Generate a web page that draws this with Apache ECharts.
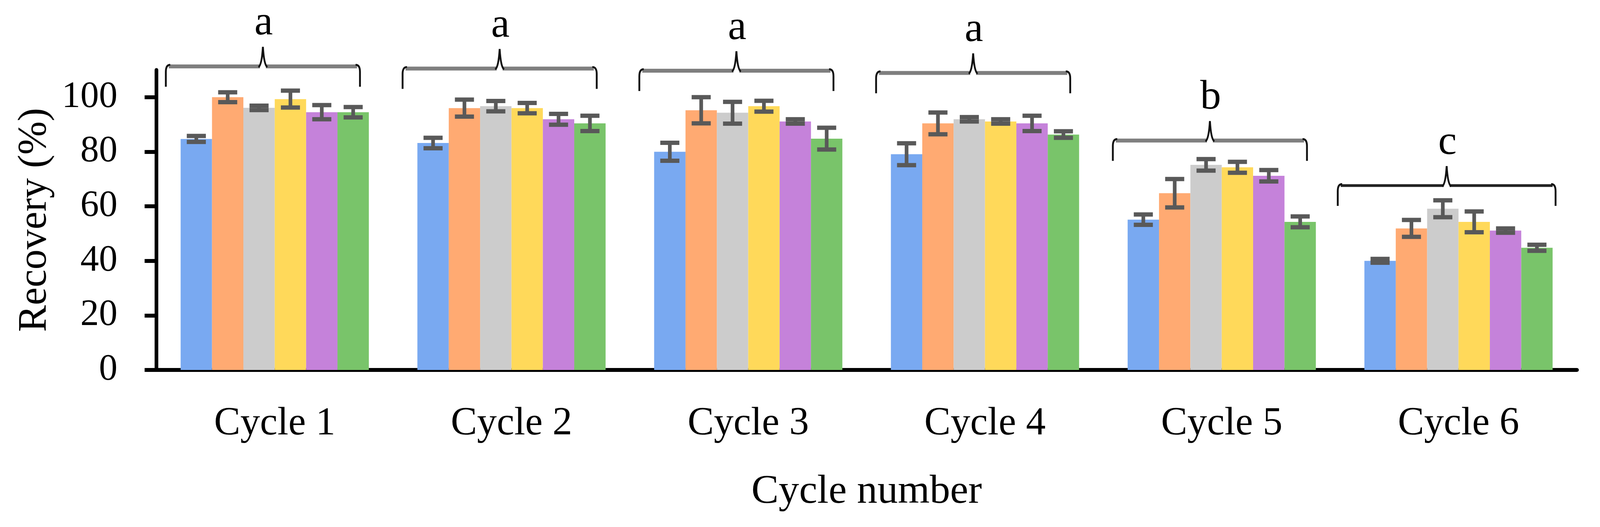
<!DOCTYPE html>
<html>
<head>
<meta charset="utf-8">
<script src="https://cdn.jsdelivr.net/npm/echarts@6/dist/echarts.min.js"></script>
<style>html,body{margin:0;padding:0;background:#fff;overflow:hidden}#c{width:100vw;height:100vh}</style>
</head>
<body>
<div id="c"></div>
<script>
const categories = ['Cycle 1', 'Cycle 2', 'Cycle 3', 'Cycle 4', 'Cycle 5', 'Cycle 6'];
const seriesNames = ['Series 1', 'Series 2', 'Series 3', 'Series 4', 'Series 5', 'Series 6'];
const s1 = [84.7, 83.2, 80.0, 79.1, 55.1, 40.0];
const s2 = [100.0, 96.0, 95.2, 90.4, 64.8, 51.9];
const s3 = [96.1, 96.7, 94.3, 91.9, 75.2, 59.1];
const s4 = [99.3, 96.0, 96.7, 91.1, 74.3, 54.3];
const s5 = [94.5, 91.9, 91.1, 90.4, 71.2, 51.1];
const s6 = [94.5, 90.4, 84.8, 86.3, 54.3, 44.8];
const e1 = [1.1, 1.9, 3.3, 4.0, 1.9, 0.7];
const e2 = [1.8, 3.1, 4.8, 4.0, 5.2, 3.1];
const e3 = [0.8, 1.9, 4.0, 0.8, 2.1, 3.1];
const e4 = [3.1, 1.9, 2.0, 0.8, 2.0, 3.8];
const e5 = [2.6, 2.0, 0.8, 2.8, 2.1, 0.8];
const e6 = [1.9, 2.8, 4.0, 1.2, 2.0, 1.1];
const yTicks = [0, 20, 40, 60, 80, 100];
const groupLetters = ['a', 'a', 'a', 'a', 'b', 'c'];
const groupLevels = [111.3, 110.5, 109.7, 108.9, 84.1, 67.6];

const values = [s1, s2, s3, s4, s5, s6];
const errors = [e1, e2, e3, e4, e5, e6];
const colors = ['#79A9F1', '#FFAA72', '#CCCCCC', '#FFD95A', '#C582DA', '#79C46A'];
const FONT = '"Liberation Serif", "DejaVu Serif", serif';
const GAP = 0.205;
const N = values.length;
const el = document.getElementById('c');
const KX = el.clientWidth / 4359, KY = el.clientHeight / 1349;
const KF = Math.sqrt(KX * KY);
const X = v => v * KX, Y = v => v * KY, F = v => v * KF;

const series = [];
values.forEach((v, i) => {
  series.push({
    name: seriesNames[i], type: 'bar', data: v, barGap: '0%', barCategoryGap: (GAP * 100) + '%',
    itemStyle: { color: colors[i] }, z: 2
  });
});
values.forEach((v, i) => {
  series.push({
    type: 'custom', z: 5, clip: false,
    data: v.map((m, k) => [k, m - errors[i][k], m + errors[i][k]]),
    renderItem: function (params, api) {
      const x = api.value(0);
      const catW = api.size([1, 0])[0];
      const barW = catW * (1 - GAP) / N;
      const cx = api.coord([x, 0])[0] + (i - (N - 1) / 2) * barW;
      const yHi = api.coord([x, api.value(2)])[1];
      const yLo = api.coord([x, api.value(1)])[1];
      const st = { stroke: '#595959', lineWidth: X(10) };
      const cap = { stroke: '#595959', lineWidth: Y(11) };
      const cw = X(26);
      return { type: 'group', children: [
        { type: 'line', shape: { x1: cx, y1: yHi, x2: cx, y2: yLo }, style: st },
        { type: 'line', shape: { x1: cx - cw, y1: yHi, x2: cx + cw, y2: yHi }, style: cap },
        { type: 'line', shape: { x1: cx - cw, y1: yLo, x2: cx + cw, y2: yLo }, style: cap }
      ]};
    }
  });
});
series.push({
  type: 'custom', z: 6, clip: false, silent: true,
  data: groupLevels.map((lv, k) => [k, lv]),
  renderItem: function (params, api) {
    const k = api.value(0);
    const catW = api.size([1, 0])[0];
    const p = api.coord([k, api.value(1)]);
    const cx = p[0] - 0.05 * catW;
    const hw = (k === 5 ? 0.46 : 0.41) * catW;
    const y = p[1];
    const x0 = cx - hw, x1 = cx + hw;
    const gray = { stroke: k === 5 ? '#222' : '#7F7F7F', lineWidth: Y(k === 5 ? 7 : 10), fill: null };
    const blk = { stroke: '#111', lineWidth: X(5), fill: null };
    return { type: 'group', children: [
      { type: 'line', shape: { x1: x0 + X(8), y1: y, x2: cx - X(8), y2: y }, style: gray },
      { type: 'line', shape: { x1: cx + X(8), y1: y, x2: x1 - X(8), y2: y }, style: gray },
      { type: 'path', shape: { pathData: 'M' + x0 + ' ' + (y + Y(52)) + ' L' + x0 + ' ' + (y + Y(14)) + ' Q' + x0 + ' ' + (y - Y(4)) + ' ' + (x0 + X(12)) + ' ' + (y - Y(4)) }, style: blk },
      { type: 'path', shape: { pathData: 'M' + x1 + ' ' + (y + Y(52)) + ' L' + x1 + ' ' + (y + Y(14)) + ' Q' + x1 + ' ' + (y - Y(4)) + ' ' + (x1 - X(12)) + ' ' + (y - Y(4)) }, style: blk },
      { type: 'path', shape: { pathData: 'M' + (cx - X(12)) + ' ' + (y + Y(2)) + ' Q' + (cx - X(3)) + ' ' + (y - Y(4)) + ' ' + cx + ' ' + (y - Y(50)) + ' Q' + (cx + X(3)) + ' ' + (y - Y(4)) + ' ' + (cx + X(12)) + ' ' + (y + Y(2)) }, style: blk },
      { type: 'text', style: { text: groupLetters[params.dataIndex], x: cx + X(2), y: y - Y(56), fill: '#000', font: F(110) + 'px ' + FONT, align: 'center', verticalAlign: 'bottom' } }
    ]};
  }
});

const chart = echarts.init(el, null, { renderer: 'canvas' });
chart.setOption({
  backgroundColor: '#fff',
  animation: false,
  grid: { left: X(426), right: X(63), top: Y(179), bottom: Y(402), outerBoundsMode: 'none', containLabel: false },
  xAxis: {
    type: 'category', data: categories,
    axisLine: { show: true, lineStyle: { color: '#000', width: Y(10) } },
    axisTick: { show: false },
    axisLabel: { color: '#000', fontFamily: FONT, fontSize: F(104), margin: Y(88) },
    name: 'Cycle number', nameLocation: 'middle', nameGap: Y(260),
    nameTextStyle: { color: '#000', fontFamily: FONT, fontSize: F(108) }
  },
  yAxis: {
    type: 'value', min: 0, max: 110, interval: 20,
    axisLine: { show: true, lineStyle: { color: '#000', width: X(10) } },
    axisTick: { show: true, length: X(32), lineStyle: { color: '#000', width: Y(10) }, customValues: yTicks },
    axisLabel: { color: '#000', fontFamily: FONT, fontSize: F(98), margin: X(106), customValues: yTicks },
    splitLine: { show: false },
    name: 'Recovery (%)', nameLocation: 'middle', nameGap: X(275),
    nameTextStyle: { color: '#000', fontFamily: FONT, fontSize: F(106) }
  },
  series: series
});
</script>
</body>
</html>
